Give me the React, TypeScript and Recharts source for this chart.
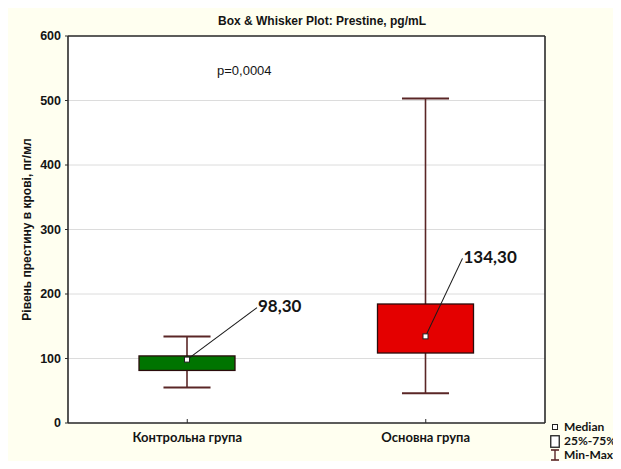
import React from 'react';
import {
  ComposedChart,
  Bar,
  XAxis,
  YAxis,
  CartesianGrid,
  Legend,
} from 'recharts';

// ---- data ----
const categories = ['Контрольна група', 'Основна група'];
const minValues = [55, 46];
const q1Values = [81.5, 108.5];
const medianValues = [98.3, 134.3];
const q3Values = [104, 184.5];
const maxValues = [134, 503];
const yTicks = [0, 100, 200, 300, 400, 500, 600];
const titleText = 'Box & Whisker Plot: Prestine, pg/mL';
const pValueText = 'p=0,0004';
const yAxisTitle = 'Рівень престину в крові, пг/мл';
const legendLabels = ['Median', '25%-75%', 'Min-Max'];

const boxFills = ['#007400', '#e40000'];
// label offsets of the median call-outs (pixels, relative to the median point)
const calloutOffsets = [
  { dx: 70, dy: -52 },
  { dx: 37, dy: -78 },
];

const data = categories.map((name, i) => ({
  name,
  range: [minValues[i], maxValues[i]],
  min: minValues[i],
  q1: q1Values[i],
  median: medianValues[i],
  q3: q3Values[i],
  max: maxValues[i],
  idx: i,
}));

const WHISKER = '#5a2626';
const BOX_STROKE = '#2a0c0c';
const AXIS = '#2b2b2b';

function BoxShape(props: any) {
  const { x, y, width, height, payload } = props;
  if (!payload) return null;
  const { min, max, q1, q3, median, idx } = payload;
  const top = Math.min(y, y + height);
  const h = Math.abs(height);
  const py = (v: number) => top + (h * (max - v)) / (max - min);
  const cx = x + width / 2;
  const capW = width * 0.49;
  const yMax = py(max);
  const yMin = py(min);
  const yQ1 = py(q1);
  const yQ3 = py(q3);
  const yMed = py(median);
  const off = calloutOffsets[idx];
  const label = median.toFixed(2).replace('.', ',');
  return (
    <g>
      <line x1={cx} x2={cx} y1={yMax} y2={yMin} stroke={WHISKER} strokeWidth={1.6} />
      <line x1={cx - capW / 2} x2={cx + capW / 2} y1={yMax} y2={yMax} stroke={WHISKER} strokeWidth={2} />
      <line x1={cx - capW / 2} x2={cx + capW / 2} y1={yMin} y2={yMin} stroke={WHISKER} strokeWidth={2} />
      <rect
        x={x}
        y={yQ3}
        width={width}
        height={yQ1 - yQ3}
        fill={boxFills[idx]}
        stroke={BOX_STROKE}
        strokeWidth={1.3}
      />
      <line
        x1={cx}
        y1={yMed}
        x2={cx + off.dx}
        y2={yMed + off.dy}
        stroke="#1a1a1a"
        strokeWidth={1.1}
      />
      <rect x={cx - 2.5} y={yMed - 2.5} width={5} height={5} fill="#ffffff" stroke="#222" strokeWidth={1} />
      <text
        x={cx + off.dx + 1}
        y={yMed + off.dy}
        dominantBaseline="middle"
        fontFamily="Lato, 'Open Sans', sans-serif"
        fontWeight={700}
        fontSize={17}
        fill="#141414"
      >
        {label}
      </text>
    </g>
  );
}

function LegendContent() {
  const rowStyle: React.CSSProperties = {
    display: 'flex',
    alignItems: 'center',
    height: 14,
    lineHeight: '14px',
    whiteSpace: 'nowrap',
  };
  const textStyle: React.CSSProperties = {
    fontFamily: "Lato, 'Open Sans', sans-serif",
    fontWeight: 700,
    fontSize: 12,
    lineHeight: '14px',
    color: '#141414',
    marginLeft: 4,
  };
  const svgStyle: React.CSSProperties = { display: 'block', flex: 'none' };
  return (
    <div style={{ lineHeight: '14px' }}>
      <div style={rowStyle}>
        <svg width={10} height={12} style={svgStyle}>
          <rect x={2.5} y={3.5} width={5} height={5} fill="#fff" stroke="#222" strokeWidth={1} />
        </svg>
        <span style={textStyle}>{legendLabels[0]}</span>
      </div>
      <div style={rowStyle}>
        <svg width={10} height={13} style={svgStyle}>
          <rect x={0.75} y={0.75} width={8.5} height={11.5} fill="#fff" stroke="#222" strokeWidth={1.3} />
        </svg>
        <span style={textStyle}>{legendLabels[1]}</span>
      </div>
      <div style={rowStyle}>
        <svg width={10} height={12} style={svgStyle}>
          <line x1={1} x2={9} y1={1} y2={1} stroke={WHISKER} strokeWidth={1.6} />
          <line x1={5} x2={5} y1={1} y2={11} stroke={WHISKER} strokeWidth={1.4} />
          <line x1={1} x2={9} y1={11} y2={11} stroke={WHISKER} strokeWidth={1.6} />
        </svg>
        <span style={textStyle}>{legendLabels[2]}</span>
      </div>
    </div>
  );
}

export default function App() {
  return (
    <div
      style={{
        position: 'relative',
        margin: -8,
        width: 621,
        height: 469,
        background: '#fffff0',
        overflow: 'hidden',
      }}
    >
      <ComposedChart
        width={621}
        height={469}
        data={data}
        margin={{ top: 35, right: 75, bottom: 16, left: 8 }}
      >
        <CartesianGrid
          vertical={false}
          stroke="#dcdcdc"
          strokeWidth={1}
          fill="#ffffff"
          fillOpacity={1}
        />
        <XAxis
          dataKey="name"
          type="category"
          height={30}
          axisLine={{ stroke: AXIS, strokeWidth: 1.6 }}
          tickLine={{ stroke: AXIS }}
          tickSize={-4}
          tickMargin={14}
          interval={0}
          tick={{
            fontFamily: "Lato, 'Open Sans', sans-serif",
            fontWeight: 700,
            fontSize: 13,
            fill: '#141414',
          }}
        />
        <XAxis
          xAxisId="top"
          dataKey="name"
          type="category"
          orientation="top"
          height={1}
          axisLine={{ stroke: AXIS, strokeWidth: 1.6 }}
          tickLine={{ stroke: AXIS }}
          tickSize={-4}
          tick={false}
        />
        <YAxis
          type="number"
          domain={[0, 600]}
          ticks={yTicks}
          width={60}
          interval={0}
          axisLine={{ stroke: AXIS, strokeWidth: 1.6 }}
          tickLine={{ stroke: AXIS }}
          tickSize={3}
          tickMargin={4}
          tick={{
            fontFamily: "'Liberation Sans', Arial, sans-serif",
            fontWeight: 700,
            fontSize: 12.5,
            fill: '#141414',
          }}
          label={{
            value: yAxisTitle,
            angle: -90,
            position: 'center',
            dx: -11,
            style: {
              fontFamily: "'Liberation Sans', Arial, sans-serif",
              fontWeight: 700,
              fontSize: 12,
              fill: '#141414',
            },
          }}
        />
        <YAxis
          yAxisId="right"
          orientation="right"
          type="number"
          domain={[0, 600]}
          ticks={yTicks}
          width={1}
          axisLine={{ stroke: AXIS, strokeWidth: 1.6 }}
          tickLine={{ stroke: AXIS }}
          tickSize={-4}
          tick={false}
        />
        <Bar
          dataKey="range"
          barSize={96}
          shape={BoxShape}
          isAnimationActive={false}
        />
        <Legend
          layout="vertical"
          align="center"
          verticalAlign="middle"
          content={LegendContent}
          wrapperStyle={{ position: 'absolute', left: 550, top: 420, width: 71, height: 46 }}
        />
      </ComposedChart>
      <div
        style={{
          position: 'absolute',
          left: 0,
          width: 644,
          top: 14,
          textAlign: 'center',
          fontFamily: "'Liberation Sans', Arial, sans-serif",
          fontWeight: 700,
          fontSize: 12,
          color: '#141414',
          whiteSpace: 'nowrap',
        }}
      >
        {titleText}
      </div>
      <div
        style={{
          position: 'absolute',
          left: 217,
          top: 63,
          fontFamily: "'Liberation Sans', Arial, sans-serif",
          fontSize: 13,
          color: '#141414',
          whiteSpace: 'nowrap',
        }}
      >
        {pValueText}
      </div>
    </div>
  );
}
